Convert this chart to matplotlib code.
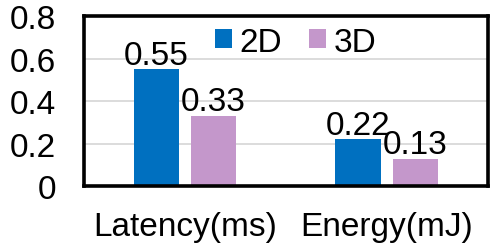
import matplotlib.pyplot as plt
import numpy as np

plt.rcParams['font.family'] = ['Liberation Sans', 'DejaVu Sans']

categories = ["Latency(ms)", "Energy(mJ)"]
series_names = ["2D", "3D"]
values_2d = [0.55, 0.22]
values_3d = [0.33, 0.13]
y_ticks = [0, 0.2, 0.4, 0.6, 0.8]
y_tick_labels = ["0", "0.2", "0.4", "0.6", "0.8"]

blue = "#0070C0"
purple = "#C497CB"
fs = 24

fig = plt.figure(figsize=(4.97, 2.53), dpi=100)
ax = fig.add_axes([0.169, 0.26, 0.812, 0.672])

x = np.arange(len(categories))
w = 0.225
off = 0.142

b1 = ax.bar(x - off, values_2d, w, color=blue, label=series_names[0], zorder=2)
b2 = ax.bar(x + off, values_3d, w, color=purple, label=series_names[1], zorder=2)

# Data labels
for bars, vals in [(b1, values_2d), (b2, values_3d)]:
    for rect, v in zip(bars, vals):
        ax.annotate(f"{v:.2f}", (rect.get_x() + rect.get_width() / 2, v),
                    xytext=(0, -1), textcoords='offset points',
                    ha='center', va='bottom', fontsize=fs)

ax.set_xlim(-0.5, 1.5)
ax.set_ylim(0, 0.8)
ax.set_yticks(y_ticks)
ax.set_yticklabels(y_tick_labels)
ax.set_xticks(x)
ax.set_xticklabels(categories)
ax.tick_params(axis='y', length=0, pad=20, labelsize=fs)
ax.tick_params(axis='x', length=0, pad=18, labelsize=fs)

ax.yaxis.grid(True, color="#D9D9D9", linewidth=1.3, zorder=0)
ax.set_axisbelow(True)
for s in ax.spines.values():
    s.set_linewidth(2.6)
    s.set_color("black")

ax.legend(loc='upper center', bbox_to_anchor=(0.525, 1.075), ncol=2, frameon=False,
          fontsize=fs, handlelength=0.5, handleheight=0.5, handletextpad=0.25,
          columnspacing=0.8, borderpad=0.2)

plt.savefig("out.png", dpi=100)
